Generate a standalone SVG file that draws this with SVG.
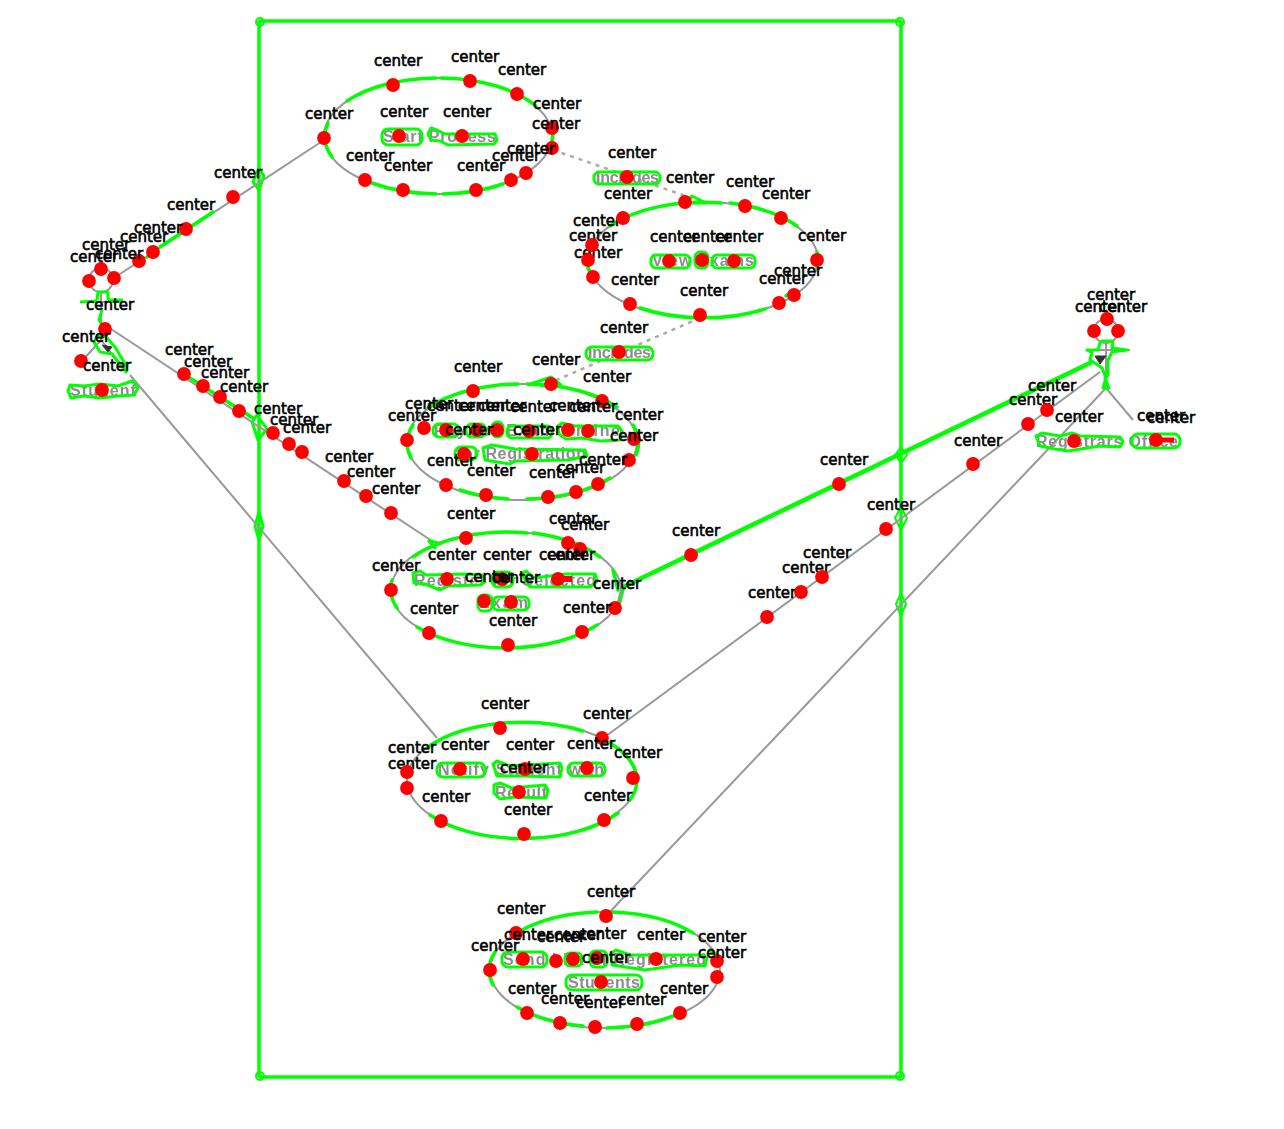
<svg xmlns="http://www.w3.org/2000/svg" width="1284" height="1129" viewBox="0 0 1284 1129">
<defs>
<filter id="soft" x="-5%" y="-5%" width="110%" height="110%"><feGaussianBlur stdDeviation="0.7"/></filter>
</defs>
<style>
.edge{fill:none;stroke:#999;stroke-width:2;filter:url(#soft)}
.dash{fill:none;stroke:#aaa;stroke-width:2.5;stroke-dasharray:4 5;filter:url(#soft)}
.ink{fill:#333;stroke:#333;filter:url(#soft)}
.g{fill:none;stroke:#00ff00;stroke-width:3.5;stroke-linecap:round;stroke-linejoin:round}
.gt{stroke-width:4.5}
.t{fill:none;stroke:#00ff00;stroke-width:3;stroke-linejoin:round}
.s{stroke-width:2}
.name{font-family:"Liberation Sans",Arial,sans-serif;font-size:16px;font-weight:bold;fill:#8c8c8c;filter:url(#soft)}
.d{fill:#ff0000;r:6.9px}
.c{font-family:"DejaVu Sans",sans-serif;font-size:15px;fill:#000;stroke:#000;stroke-width:.6}
</style>
<rect width="1284" height="1129" fill="#fff"/>

<g id="system">
<rect class="g" x="259" y="21" width="642" height="1056" rx="2"/>
<circle class="t s" cx="260" cy="22" r="4"/><circle class="t s" cx="900" cy="22" r="4"/><circle class="t s" cx="260" cy="1076" r="4"/><circle class="t s" cx="900" cy="1076" r="4"/>
<polygon class="t" points="259,168 264,176 259,190 253,182"/>
<polygon class="t" points="257,415 267,429 258,440 252,422"/>
<polygon class="t" points="259,512 263,526 259,540 255,526"/>
<polygon class="t s" points="901,447 907,455 901,463 895,455"/>
<polygon class="t s" points="901,507 907,518 901,530 895,518"/>
<polygon class="t s" points="901,593 906,604 901,616 896,604"/>
</g>

<g id="connectors">
<path class="edge" d="M120 274L324 140"/>
<path class="edge" d="M105 325L432 541"/>
<path class="edge" d="M130 375L437 738"/>
<path class="edge" d="M602 739L1100 372"/>
<path class="edge" d="M606 916L1106 388"/>
<path class="dash" d="M553 150L703 202"/>
<path class="dash" d="M700 318L552 382"/>
<path class="g" d="M160 247L213 212"/>
<path class="g" d="M147 257L153 253"/>
<path class="g" d="M190 378L253 418"/>
<path class="g gt" d="M618 607L623 587L650 574L1090 363"/>
<polyline class="t" points="685,202 692,196 706,203 690,203"/>
<polyline class="t" points="528,385 551,377 561,385 540,386"/>
<polyline class="t" points="428,540 435,548 430,541 442,544"/>
</g>

<g id="actor-student">
<g class="edge">
<circle cx="101" cy="280" r="12"/>
<path d="M101 292V340M80 302H123M101 340L82 361M101 340L125 370"/>
</g>
<polygon class="ink" points="102,345 112,347 108,352"/>
<polyline class="t" points="97,300 98,292 108,292 108,300"/>
<path class="t" d="M80 302L97 301M108 300L123 300"/>
<polyline class="t" points="102,310 99,320 102,325"/>
<polygon class="t" points="98,335 94,342 100,352 112,354 126,372 127,367 115,347 106,337"/>
<text class="name" x="70" y="396" textLength="66">Student</text>
<path class="t" d="M70 385L84 386L100 384L118 386L132 381L138 388L134 395L118 396L100 398L84 396L71 398L68 391Z"/>
</g>

<g id="uc-start-process">
<ellipse class="edge" cx="438" cy="136" rx="114" ry="58"/>
<path class="g" d="M347 101A114 58 0 0 1 436 78M441 78A114 58 0 0 1 536 106M328 123A114 58 0 0 0 332 157M372 183A114 58 0 0 0 436 194M443 194A114 58 0 0 0 503 184M553 134L552 142"/>
<text class="name" x="383" y="142" textLength="113">Start Process</text>
<rect class="t" x="382" y="129" width="40" height="16" rx="6"/>
<path class="t" d="M428 134L431 128L437 130L445 134L495 134L497 140L494 144L448 145L440 141L431 140Z"/>
</g>

<g id="label-includes-1">
<text class="name" x="596" y="183" textLength="63">Includes</text>
<rect class="t" x="594" y="172" width="66" height="12" rx="5"/>
</g>

<g id="uc-view-exams">
<ellipse class="edge" cx="703" cy="260" rx="115" ry="58"/>
<path class="g" d="M610 226A115 58 0 0 1 721 203M730 203A115 58 0 0 1 797 226M588 268L590 272M640 308A115 58 0 0 0 765 309M817 252A115 58 0 0 1 817 268M786 296L790 293"/>
<text class="name" x="652" y="266" textLength="102">View Exams</text>
<rect class="t" x="651" y="255" width="39" height="13" rx="5"/>
<rect class="t" x="695" y="252" width="13" height="16" rx="5"/>
<rect class="t" x="712" y="255" width="43" height="13" rx="5"/>
</g>

<g id="label-includes-2">
<text class="name" x="588" y="358" textLength="63">Includes</text>
<rect class="t" x="586" y="347" width="67" height="13" rx="6"/>
</g>

<g id="uc-pay">
<ellipse class="edge" cx="522" cy="442" rx="115" ry="58"/>
<path class="g" d="M428 408A115 58 0 0 1 518 384M527 384A115 58 0 0 1 617 407M413 425A115 58 0 0 0 411 458M633 425A115 58 0 0 1 636 455M460 490A115 58 0 0 0 508 499M527 499A115 58 0 0 0 610 478"/>
<text class="name" x="434" y="436" textLength="186">Pay for Exam Online</text>
<text class="name" x="457" y="459" textLength="129">for Registration</text>
<rect class="t" x="433" y="424" width="26" height="13" rx="6"/>
<rect class="t" x="466" y="424" width="20" height="13" rx="6"/>
<rect class="t" x="492" y="422" width="11" height="15" rx="5"/>
<rect class="t" x="507" y="426" width="45" height="12" rx="5"/>
<path class="t" d="M558 426L562 423L575 426L618 426L622 431L620 440L600 441L582 438L566 439L559 434Z"/>
<rect class="t" x="455" y="447" width="22" height="13" rx="6"/>
<path class="t" d="M483 448L492 445L515 449L585 450L587 456L568 460L515 461L510 464L485 460Z"/>
</g>

<g id="uc-register">
<ellipse class="edge" cx="506" cy="590" rx="115" ry="58"/>
<path class="g" d="M413 557A115 58 0 0 1 527 533M533 533A115 58 0 0 1 600 557M613 570L618 590M392 580A115 58 0 0 0 397 608M417 627A115 58 0 0 0 597 625"/>
<text class="name" x="414" y="586" textLength="182">Register for Selected</text>
<text class="name" x="479" y="608" textLength="49">Exam</text>
<path class="t" d="M413 573L420 571L426 575L465 574L482 575L485 582L480 585L448 586L440 590L425 584L414 583Z"/>
<rect class="t" x="492" y="572" width="21" height="15" rx="6"/>
<path class="t" d="M522 573L526 571L534 578L566 574L595 574L597 581L590 587L565 587L530 587L526 581Z"/>
<rect class="t" x="478" y="595" width="14" height="16" rx="5"/>
<rect class="t" x="493" y="597" width="36" height="13" rx="5"/>
</g>

<g id="uc-notify">
<ellipse class="edge" cx="522" cy="780" rx="115" ry="58"/>
<path class="g" d="M428 747A115 58 0 0 1 583 731M610 743A115 58 0 0 1 630 800M430 815A115 58 0 0 0 618 813"/>
<text class="name" x="438" y="775" textLength="166">Notify Student with</text>
<text class="name" x="495" y="798" textLength="52">Result</text>
<rect class="t" x="437" y="763" width="48" height="14" rx="6"/>
<path class="t" d="M493 764L497 761L510 766L560 763L562 768L560 777L520 776L497 776Z"/>
<rect class="t" x="568" y="763" width="37" height="13" rx="6"/>
<path class="t" d="M494 785L500 783L512 788L545 785L548 790L546 798L515 797L500 799L494 793Z"/>
</g>

<g id="uc-send">
<ellipse class="edge" cx="605" cy="970" rx="115" ry="58"/>
<path class="g" d="M522 930A115 58 0 0 1 597 912M612 912A115 58 0 0 1 693 933M495 952A115 58 0 0 0 493 985M710 950L717 955M517 1007A115 58 0 0 0 583 1026M607 1028A115 58 0 0 0 680 1013"/>
<text class="name" x="503" y="965" textLength="203">Send List of Registered</text>
<text class="name" x="568" y="988" textLength="72">Students</text>
<rect class="t" x="502" y="952" width="45" height="15" rx="6"/>
<rect class="t" x="565" y="953" width="17" height="13" rx="5"/>
<rect class="t" x="590" y="951" width="17" height="16" rx="5"/>
<path class="t" d="M611 953L616 950L630 955L704 955L707 958L705 966L680 965L645 970L612 965Z"/>
<rect class="t" x="566" y="975" width="76" height="15" rx="6"/>
</g>

<g id="actor-registrar">
<g class="edge">
<circle cx="1106" cy="331" r="12"/>
<path d="M1106 343V388M1087 350H1130M1106 388L1133 420"/>
</g>
<polygon class="ink" points="1095,356 1106,356 1100,364"/>
<polygon class="t" points="1100,343 1102,341 1113,341 1112,348 1127,350 1112,352 1108,360 1108,375 1105,378 1109,388 1103,388 1106,378 1102,368 1095,363 1090,360 1092,352 1087,350 1098,350"/>
<text class="name" x="1036" y="447" textLength="142">Registrars Office</text>
<path class="t" d="M1036 436L1042 433L1060 436L1072 433L1080 436L1120 437L1123 442L1120 447L1100 446L1068 451L1055 449L1040 446Z"/>
<rect class="t" x="1132" y="434" width="48" height="14" rx="6"/>
</g>

<g id="center-markers">
<path d="M1156 440H1174" stroke="#f00" stroke-width="5"/>
<circle class="d" cx="233" cy="197" r="6.9"/><text class="c" x="214" y="178">center</text>
<circle class="d" cx="186" cy="229" r="6.9"/><text class="c" x="167" y="210">center</text>
<circle class="d" cx="153" cy="252" r="6.9"/><text class="c" x="134" y="233">center</text>
<circle class="d" cx="139" cy="261" r="6.9"/><text class="c" x="120" y="242">center</text>
<circle class="d" cx="101" cy="269" r="6.9"/><text class="c" x="82" y="250">center</text>
<circle class="d" cx="114" cy="278" r="6.9"/><text class="c" x="95" y="259">center</text>
<circle class="d" cx="89" cy="281" r="6.9"/><text class="c" x="70" y="262">center</text>
<circle class="d" cx="105" cy="329" r="6.9"/><text class="c" x="86" y="310">center</text>
<circle class="d" cx="81" cy="361" r="6.9"/><text class="c" x="62" y="342">center</text>
<circle class="d" cx="102" cy="390" r="6.9"/><text class="c" x="83" y="371">center</text>
<circle class="d" cx="184" cy="374" r="6.9"/><text class="c" x="165" y="355">center</text>
<circle class="d" cx="203" cy="386" r="6.9"/><text class="c" x="184" y="367">center</text>
<circle class="d" cx="220" cy="397" r="6.9"/><text class="c" x="201" y="378">center</text>
<circle class="d" cx="239" cy="411" r="6.9"/><text class="c" x="220" y="392">center</text>
<circle class="d" cx="273" cy="433" r="6.9"/><text class="c" x="254" y="414">center</text>
<circle class="d" cx="289" cy="444" r="6.9"/><text class="c" x="270" y="425">center</text>
<circle class="d" cx="302" cy="452" r="6.9"/><text class="c" x="283" y="433">center</text>
<circle class="d" cx="344" cy="481" r="6.9"/><text class="c" x="325" y="462">center</text>
<circle class="d" cx="366" cy="496" r="6.9"/><text class="c" x="347" y="477">center</text>
<circle class="d" cx="391" cy="513" r="6.9"/><text class="c" x="372" y="494">center</text>

<circle class="d" cx="393" cy="85" r="6.9"/><text class="c" x="374" y="66">center</text>
<circle class="d" cx="470" cy="81" r="6.9"/><text class="c" x="451" y="62">center</text>
<circle class="d" cx="517" cy="94" r="6.9"/><text class="c" x="498" y="75">center</text>
<circle class="d" cx="552" cy="128" r="6.9"/><text class="c" x="533" y="109">center</text>
<circle class="d" cx="552" cy="148" r="6.9"/><text class="c" x="532" y="129">center</text>
<circle class="d" cx="526" cy="173" r="6.9"/><text class="c" x="507" y="154">center</text>
<circle class="d" cx="511" cy="180" r="6.9"/><text class="c" x="492" y="161">center</text>
<circle class="d" cx="476" cy="190" r="6.9"/><text class="c" x="457" y="171">center</text>
<circle class="d" cx="403" cy="190" r="6.9"/><text class="c" x="384" y="171">center</text>
<circle class="d" cx="365" cy="180" r="6.9"/><text class="c" x="346" y="161">center</text>
<circle class="d" cx="324" cy="138" r="6.9"/><text class="c" x="305" y="119">center</text>
<circle class="d" cx="399" cy="136" r="6.9"/><text class="c" x="380" y="117">center</text>
<circle class="d" cx="462" cy="136" r="6.9"/><text class="c" x="443" y="117">center</text>

<circle class="d" cx="627" cy="177" r="6.9"/><text class="c" x="608" y="158">center</text>
<circle class="d" cx="685" cy="202" r="6.9"/><text class="c" x="666" y="183">center</text>
<circle class="d" cx="745" cy="206" r="6.9"/><text class="c" x="726" y="187">center</text>
<circle class="d" cx="781" cy="218" r="6.9"/><text class="c" x="762" y="199">center</text>
<circle class="d" cx="817" cy="260" r="6.9"/><text class="c" x="798" y="241">center</text>
<circle class="d" cx="794" cy="295" r="6.9"/><text class="c" x="774" y="276">center</text>
<circle class="d" cx="779" cy="303" r="6.9"/><text class="c" x="759" y="284">center</text>
<circle class="d" cx="700" cy="315" r="6.9"/><text class="c" x="680" y="296">center</text>
<circle class="d" cx="630" cy="304" r="6.9"/><text class="c" x="611" y="285">center</text>
<circle class="d" cx="593" cy="277" r="6.9"/><text class="c" x="574" y="258">center</text>
<circle class="d" cx="588" cy="260" r="6.9"/><text class="c" x="569" y="241">center</text>
<circle class="d" cx="592" cy="245" r="6.9"/><text class="c" x="573" y="226">center</text>
<circle class="d" cx="623" cy="218" r="6.9"/><text class="c" x="604" y="199">center</text>
<circle class="d" cx="669" cy="261" r="6.9"/><text class="c" x="650" y="242">center</text>
<circle class="d" cx="702" cy="260" r="6.9"/><text class="c" x="683" y="242">center</text>
<circle class="d" cx="734" cy="261" r="6.9"/><text class="c" x="715" y="242">center</text>
<circle class="d" cx="619" cy="352" r="6.9"/><text class="c" x="600" y="333">center</text>

<circle class="d" cx="551" cy="384" r="6.9"/><text class="c" x="532" y="365">center</text>
<circle class="d" cx="473" cy="391" r="6.9"/><text class="c" x="454" y="372">center</text>
<circle class="d" cx="602" cy="401" r="6.9"/><text class="c" x="583" y="382">center</text>
<circle class="d" cx="634" cy="439" r="6.9"/><text class="c" x="615" y="420">center</text>
<circle class="d" cx="629" cy="460" r="6.9"/><text class="c" x="610" y="441">center</text>
<circle class="d" cx="598" cy="484" r="6.9"/><text class="c" x="579" y="465">center</text>
<circle class="d" cx="576" cy="492" r="6.9"/><text class="c" x="557" y="473">center</text>
<circle class="d" cx="548" cy="497" r="6.9"/><text class="c" x="529" y="478">center</text>
<circle class="d" cx="486" cy="495" r="6.9"/><text class="c" x="467" y="476">center</text>
<circle class="d" cx="446" cy="485" r="6.9"/><text class="c" x="427" y="466">center</text>
<circle class="d" cx="407" cy="440" r="6.9"/><text class="c" x="388" y="421">center</text>
<circle class="d" cx="424" cy="428" r="6.9"/><text class="c" x="405" y="409">center</text>
<circle class="d" cx="446" cy="430" r="6.9"/><text class="c" x="427" y="411">center</text>
<circle class="d" cx="477" cy="430" r="6.9"/><text class="c" x="458" y="411">center</text>
<circle class="d" cx="497" cy="430" r="6.9"/><text class="c" x="478" y="411">center</text>
<circle class="d" cx="529" cy="431" r="6.9"/><text class="c" x="510" y="412">center</text>
<circle class="d" cx="568" cy="430" r="6.9"/><text class="c" x="549" y="411">center</text>
<circle class="d" cx="588" cy="431" r="6.9"/><text class="c" x="569" y="412">center</text>
<circle class="d" cx="464" cy="454" r="6.9"/><text class="c" x="445" y="435">center</text>
<circle class="d" cx="532" cy="454" r="6.9"/><text class="c" x="513" y="435">center</text>

<circle class="d" cx="466" cy="538" r="6.9"/><text class="c" x="447" y="519">center</text>
<circle class="d" cx="568" cy="543" r="6.9"/><text class="c" x="549" y="524">center</text>
<circle class="d" cx="580" cy="549" r="6.9"/><text class="c" x="561" y="530">center</text>
<circle class="d" cx="615" cy="608" r="6.9"/><text class="c" x="563" y="613">center</text>
<circle class="d" cx="582" cy="632" r="6.9"/><text class="c" x="593" y="589">center</text>
<circle class="d" cx="508" cy="645" r="6.9"/><text class="c" x="489" y="626">center</text>
<circle class="d" cx="429" cy="633" r="6.9"/><text class="c" x="410" y="614">center</text>
<circle class="d" cx="391" cy="590" r="6.9"/><text class="c" x="372" y="571">center</text>
<circle class="d" cx="447" cy="579" r="6.9"/><text class="c" x="428" y="560">center</text>
<circle class="d" cx="502" cy="579" r="6.9"/><text class="c" x="483" y="560">center</text>
<circle class="d" cx="558" cy="579" r="6.9"/><text class="c" x="539" y="560">center</text>
<path d="M558 579H572" stroke="#f00" stroke-width="6"/><text class="c" x="547" y="560">center</text>
<circle class="d" cx="484" cy="601" r="6.9"/><text class="c" x="465" y="582">center</text>
<circle class="d" cx="511" cy="602" r="6.9"/><text class="c" x="492" y="583">center</text>

<circle class="d" cx="500" cy="728" r="6.9"/><text class="c" x="481" y="709">center</text>
<circle class="d" cx="602" cy="738" r="6.9"/><text class="c" x="583" y="719">center</text>
<circle class="d" cx="633" cy="778" r="6.9"/><text class="c" x="614" y="758">center</text>
<circle class="d" cx="604" cy="820" r="6.9"/><text class="c" x="584" y="801">center</text>
<circle class="d" cx="524" cy="834" r="6.9"/><text class="c" x="504" y="815">center</text>
<circle class="d" cx="441" cy="821" r="6.9"/><text class="c" x="422" y="802">center</text>
<circle class="d" cx="407" cy="788" r="6.9"/><text class="c" x="388" y="769">center</text>
<circle class="d" cx="407" cy="772" r="6.9"/><text class="c" x="388" y="753">center</text>
<circle class="d" cx="460" cy="769" r="6.9"/><text class="c" x="441" y="750">center</text>
<circle class="d" cx="525" cy="769" r="6.9"/><text class="c" x="506" y="750">center</text>
<circle class="d" cx="587" cy="768" r="6.9"/><text class="c" x="567" y="749">center</text>
<circle class="d" cx="519" cy="792" r="6.9"/><text class="c" x="500" y="773">center</text>

<circle class="d" cx="606" cy="916" r="6.9"/><text class="c" x="587" y="897">center</text>
<circle class="d" cx="516" cy="933" r="6.9"/><text class="c" x="497" y="914">center</text>
<circle class="d" cx="717" cy="961" r="6.9"/><text class="c" x="698" y="942">center</text>
<circle class="d" cx="717" cy="977" r="6.9"/><text class="c" x="698" y="958">center</text>
<circle class="d" cx="680" cy="1013" r="6.9"/><text class="c" x="660" y="994">center</text>
<circle class="d" cx="637" cy="1024" r="6.9"/><text class="c" x="618" y="1005">center</text>
<circle class="d" cx="595" cy="1027" r="6.9"/><text class="c" x="576" y="1008">center</text>
<circle class="d" cx="560" cy="1023" r="6.9"/><text class="c" x="541" y="1004">center</text>
<circle class="d" cx="527" cy="1013" r="6.9"/><text class="c" x="508" y="994">center</text>
<circle class="d" cx="490" cy="970" r="6.9"/><text class="c" x="471" y="951">center</text>
<circle class="d" cx="523" cy="959" r="6.9"/><text class="c" x="504" y="940">center</text>
<circle class="d" cx="556" cy="961" r="6.9"/><text class="c" x="537" y="942">center</text>
<circle class="d" cx="573" cy="959" r="6.9"/><text class="c" x="554" y="940">center</text>
<circle class="d" cx="597" cy="958" r="6.9"/><text class="c" x="578" y="939">center</text>
<circle class="d" cx="656" cy="959" r="6.9"/><text class="c" x="637" y="940">center</text>
<circle class="d" cx="601" cy="982" r="6.9"/><text class="c" x="582" y="963">center</text>

<circle class="d" cx="691" cy="555" r="6.9"/><text class="c" x="672" y="536">center</text>
<circle class="d" cx="839" cy="484" r="6.9"/><text class="c" x="820" y="465">center</text>
<circle class="d" cx="767" cy="617" r="6.9"/><text class="c" x="748" y="598">center</text>
<circle class="d" cx="801" cy="592" r="6.9"/><text class="c" x="782" y="573">center</text>
<circle class="d" cx="822" cy="577" r="6.9"/><text class="c" x="803" y="558">center</text>
<circle class="d" cx="886" cy="529" r="6.9"/><text class="c" x="867" y="510">center</text>
<circle class="d" cx="973" cy="464" r="6.9"/><text class="c" x="954" y="446">center</text>
<circle class="d" cx="1028" cy="424" r="6.9"/><text class="c" x="1009" y="405">center</text>
<circle class="d" cx="1047" cy="410" r="6.9"/><text class="c" x="1028" y="391">center</text>
<circle class="d" cx="1074" cy="441" r="6.9"/><text class="c" x="1055" y="422">center</text>
<circle class="d" cx="1156" cy="440" r="6.9"/><text class="c" x="1137" y="421">center</text>
<text class="c" x="1147" y="423">center</text>
<circle class="d" cx="1107" cy="319" r="6.9"/><text class="c" x="1087" y="300">center</text>
<circle class="d" cx="1094" cy="331" r="6.9"/><text class="c" x="1075" y="312">center</text>
<circle class="d" cx="1118" cy="331" r="6.9"/><text class="c" x="1099" y="312">center</text>
</g>
</svg>
